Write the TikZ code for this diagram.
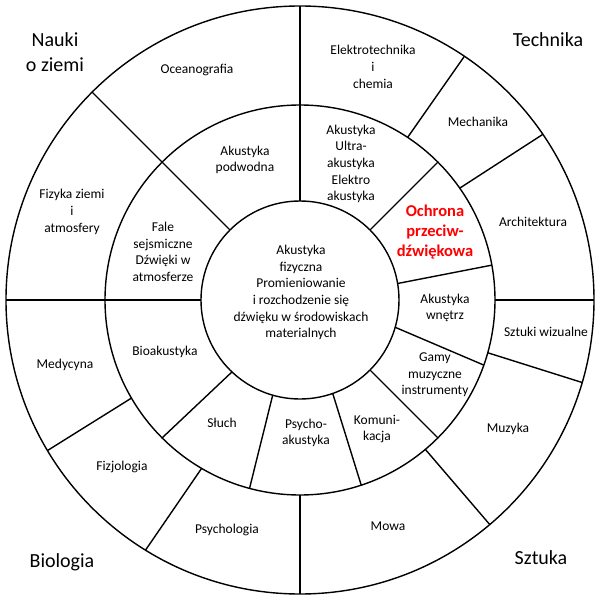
\documentclass[tikz,border=0pt]{standalone}
\usepackage{fontspec}
\setmainfont{Carlito}
\newcommand\rinn{99}
\newcommand\rmid{195}
\newcommand\rout{294}
\begin{document}
\begin{tikzpicture}[x=1pt,y=1pt,
  ring/.style={line width=1.4pt},
  lab/.style={font=\fontsize{13.5}{16.7}\selectfont, align=center, inner sep=0pt},
  big/.style={font=\fontsize{20}{25}\selectfont, align=center, inner sep=0pt},
  hot/.style={font=\bfseries\fontsize{16.5}{20}\selectfont, text=red, align=center, inner sep=0pt}]
\useasboundingbox[fill=white] (-300,-300) rectangle (298,300);
\coordinate (c) at (0,0);
% circles
\draw[ring] (c) circle[radius=\rinn];
\draw[ring] (c) circle[radius=\rmid];
\draw[ring] (c) circle[radius=\rout];
% full radial lines
\draw[ring] (90:\rinn) -- (90:\rout);
\draw[ring] (135:\rinn) -- (135:\rout);
\draw[ring] (180:\rinn) -- (180:\rout);
% middle ring lines
\draw[ring] (45:\rinn) -- (45:\rmid);
\draw[ring] (9.6:\rinn) -- (10.3:\rmid);
\draw[ring] (-16:\rinn) -- (-19.5:\rmid);
\draw[ring] (-45:\rinn) -- (-45:\rmid);
\draw[ring] (-70.7:\rinn) -- (-71.7:\rmid);
\draw[ring] (254:\rinn) -- (255:\rmid);
\draw[ring] (226.6:\rinn) -- (225:\rmid);
% outer ring lines
\draw[ring] (56.5:\rmid) -- (56:\rout);
\draw[ring] (35:\rmid) -- (34.3:\rout);
\draw[ring] (0:\rmid) -- (0:\rout);
\draw[ring] (-15.7:\rmid) -- (-16.3:\rout);
\draw[ring] (-50:\rmid) -- (-49.8:\rout);
\draw[ring] (-90:\rmid) -- (-90:\rout);
\draw[ring] (239.7:\rmid) -- (238.3:\rout);
\draw[ring] (210.2:\rmid) -- (210.8:\rout);
% corner labels
\node[big] (nauki) at (-245,247.5) {Nauki\\o ziemi};
\node[big] (tech) at (248,260) {Technika};
\node[big] (bio) at (-238,-262) {Biologia};
\node[big] (sztuka) at (241,-258) {Sztuka};
% outer ring labels
\node[lab] (ocean) at (-103,230) {Oceanografia};
\node[lab] (elektro) at (73,233) {Elektrotechnika\\i\\chemia};
\node[lab] (mech) at (178,178) {Mechanika};
\node[lab] (arch) at (233,78) {Architektura};
\node[lab] (wiz) at (246,-32) {Sztuki wizualne};
\node[lab] (muz) at (208,-129) {Muzyka};
\node[lab] (mowa) at (88,-226) {Mowa};
\node[lab] (psych) at (-73,-230) {Psychologia};
\node[lab] (fizjo) at (-178,-167) {Fizjologia};
\node[lab] (med) at (-235,-65) {Medycyna};
\node[lab] (fizyka) at (-228,88) {Fizyka ziemi\\i\\atmosfery};
% middle ring labels
\node[lab] (podw) at (-55,140) {Akustyka\\podwodna};
\node[lab] (fale) at (-137,48) {Fale\\sejsmiczne\\Dźwięki w\\atmosferze};
\node[lab] (ultra) at (51,136) {Akustyka\\Ultra-\\akustyka\\Elektro\\akustyka};
\node[hot] (ochr) at (135,68) {Ochrona\\przeciw-\\dźwiękowa};
\node[lab] (wnetrz) at (145,-8) {Akustyka\\wnętrz};
\node[lab] (gamy) at (135,-75) {Gamy\\muzyczne\\instrumenty};
\node[lab] (komun) at (77,-129) {Komuni-\\kacja};
\node[lab] (psak) at (6,-133) {Psycho-\\akustyka};
\node[lab] (sluch) at (-78,-123) {Słuch};
\node[lab] (bioak) at (-135,-52) {Bioakustyka};
% center
\node[lab] (fiz) at (1,7.5) {Akustyka\\fizyczna\\Promieniowanie\\i rozchodzenie się\\dźwięku w środowiskach\\materialnych};
\end{tikzpicture}
\end{document}
